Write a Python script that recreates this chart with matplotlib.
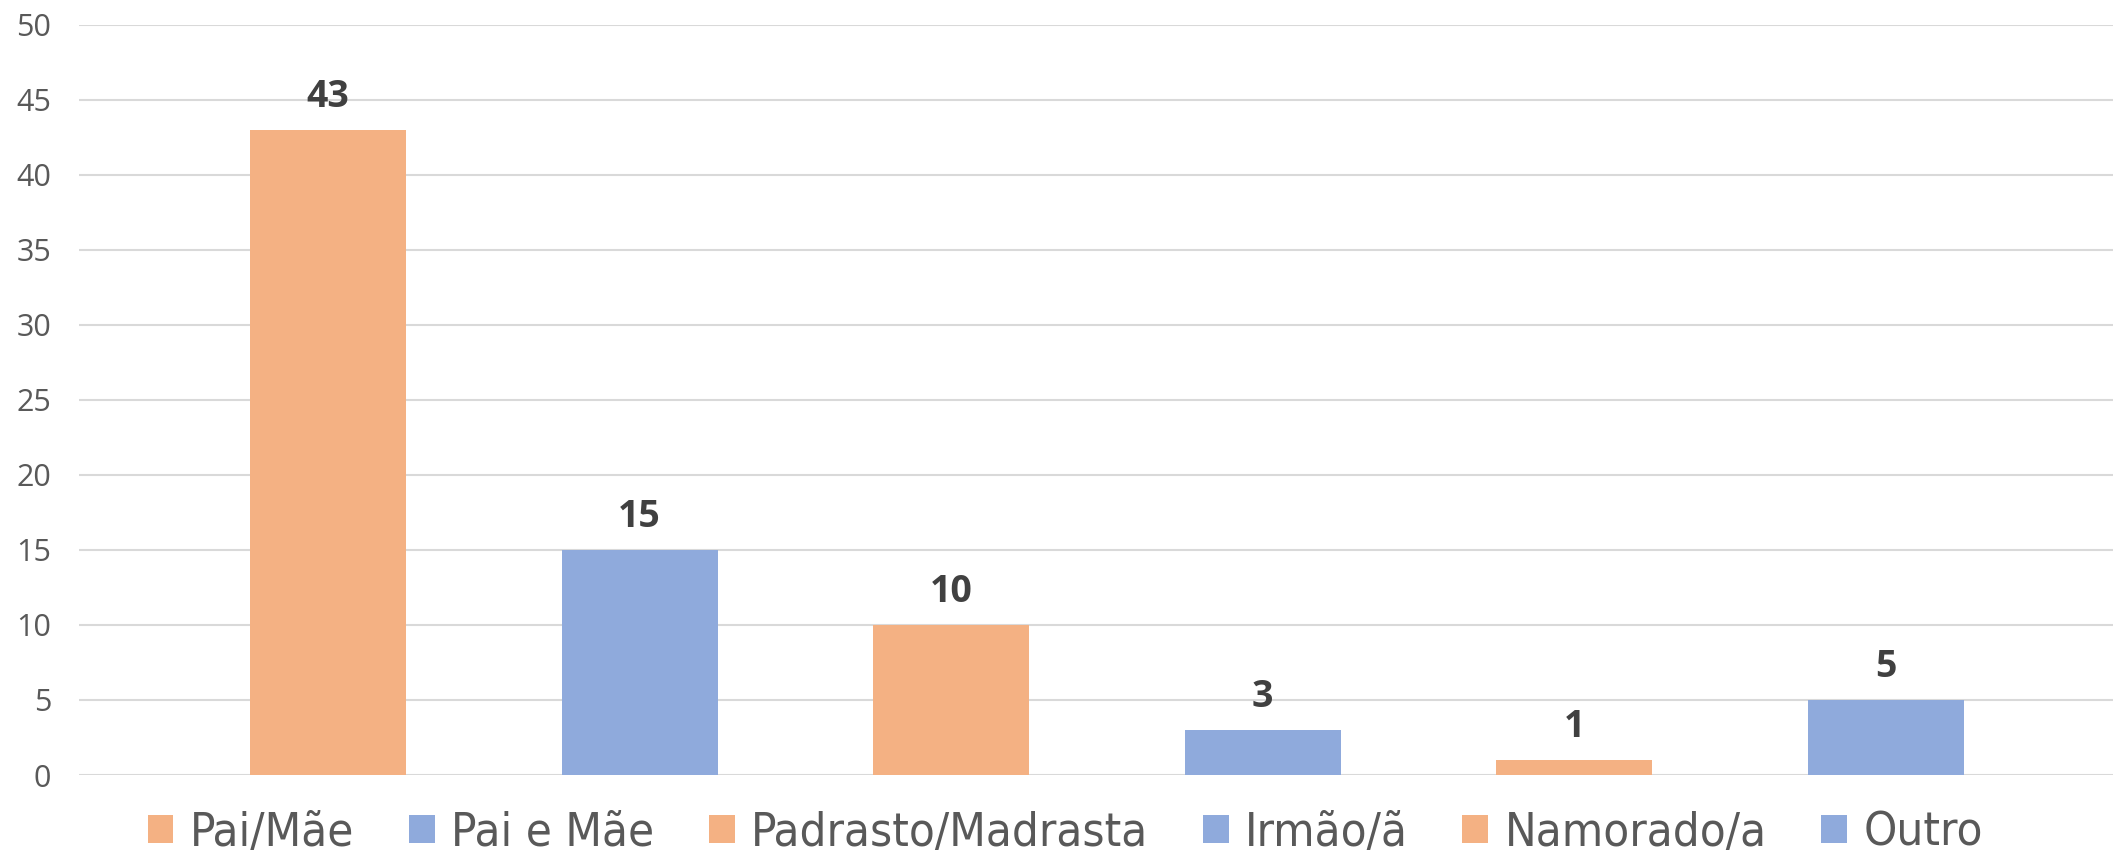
import matplotlib
matplotlib.use("Agg")
import matplotlib.pyplot as plt
from matplotlib.patches import Patch
from matplotlib import font_manager

CATEGORIES = ["Pai/Mãe", "Pai e Mãe", "Padrasto/Madrasta", "Irmão/ã", "Namorado/a", "Outro"]
VALUES = [43, 15, 10, 3, 1, 5]
ORANGE = "#F4B183"
BLUE = "#8FAADC"
COLORS = [ORANGE, BLUE, ORANGE, BLUE, ORANGE, BLUE]
YTICKS = list(range(0, 51, 5))

installed = {f.name for f in font_manager.fontManager.ttflist}
TICK_FONT = "Open Sans" if "Open Sans" in installed else "DejaVu Sans"
legend_prop = font_manager.FontProperties(family="DejaVu Sans", stretch="condensed", size=34)

fig = plt.figure(figsize=(21.16, 8.58), dpi=100)
ax = fig.add_axes([0.0373, 0.0967, 0.9613, 0.8747])

x = list(range(len(CATEGORIES)))
bars = ax.bar(x, VALUES, width=0.5, color=COLORS, zorder=3)

for b, v in zip(bars, VALUES):
    ax.annotate(
        str(v),
        (b.get_x() + b.get_width() / 2, b.get_height()),
        xytext=(0, 10),
        textcoords="offset points",
        ha="center",
        va="bottom",
        fontsize=27,
        fontweight="bold",
        family=TICK_FONT,
        color="#404040",
    )

ax.set_ylim(0, 50)
ax.set_xlim(-0.8, 5.73)
ax.set_yticks(YTICKS)
ax.set_xticks([])
ax.grid(axis="y", color="#D9D9D9", linewidth=1.5, zorder=0)
for s in ax.spines.values():
    s.set_visible(False)
ax.tick_params(axis="y", length=0, pad=20, labelsize=22, labelcolor="#595959")
for lbl in ax.get_yticklabels():
    lbl.set_family(TICK_FONT)

handles = [Patch(facecolor=c, edgecolor="none") for c in COLORS]
leg = ax.legend(
    handles,
    CATEGORIES,
    loc="upper center",
    bbox_to_anchor=(0.485, -0.016),
    ncol=6,
    frameon=False,
    handlelength=0.55,
    handleheight=0.55,
    handletextpad=0.35,
    columnspacing=1.15,
    borderaxespad=0.1,
    prop=legend_prop,
)
for t in leg.get_texts():
    t.set_color("#595959")

fig.savefig("out.png", dpi=100, facecolor="white")
